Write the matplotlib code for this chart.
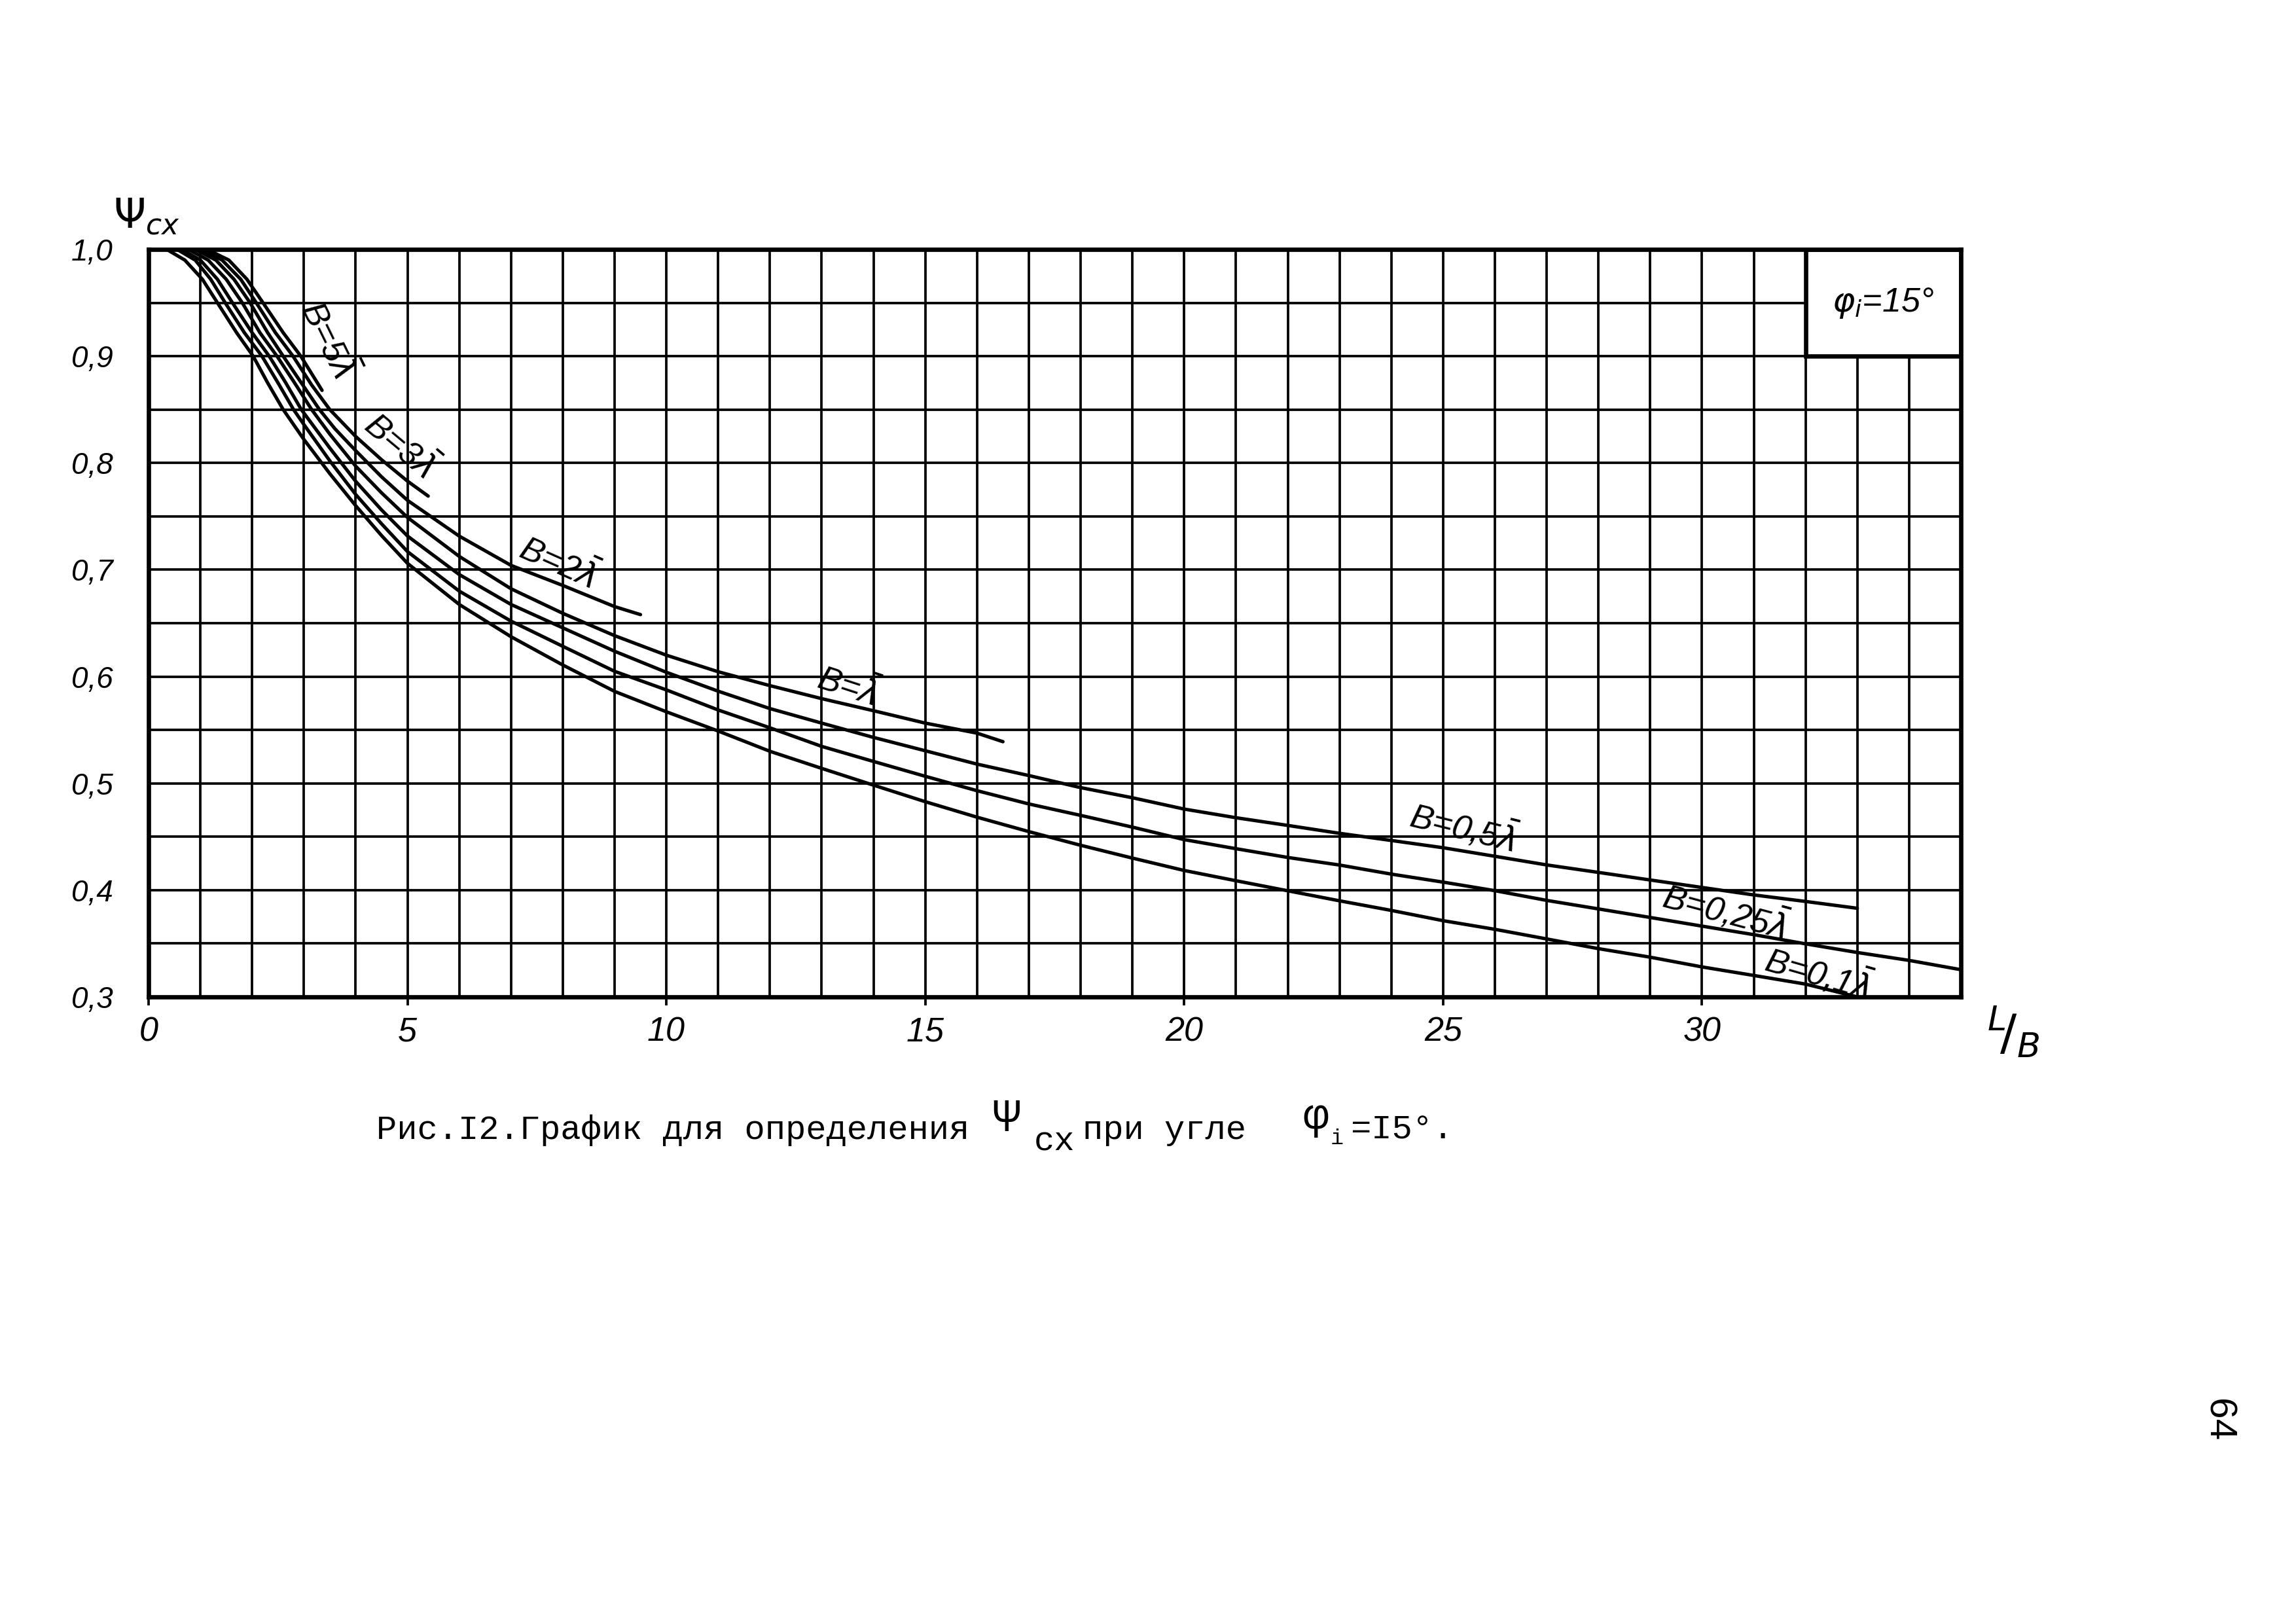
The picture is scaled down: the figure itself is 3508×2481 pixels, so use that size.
import matplotlib.pyplot as plt
from matplotlib.patches import Rectangle

# values: x = L/B, y = psi_cx
x_5 = [1.13, 1.55, 1.9, 2.21, 2.6, 2.94, 3.35]
y_5 = [1.0, 0.99, 0.972, 0.95, 0.922, 0.9, 0.868]

x_3 = [1.02, 1.42, 1.78, 2.08, 2.45, 2.79, 3.15, 3.5, 4, 4.5, 5, 5.4]
y_3 = [1.0, 0.99, 0.972, 0.95, 0.922, 0.9, 0.873, 0.85, 0.8248, 0.803, 0.783, 0.769]

x_2 = [0.9, 1.3, 1.65, 1.96, 2.3, 2.6, 2.95, 3.3, 3.6, 4, 4.5, 5, 6, 7, 8, 9, 9.5]
y_2 = [1.0, 0.99, 0.972, 0.95, 0.922, 0.9, 0.875, 0.85, 0.832, 0.8115, 0.787, 0.765,
       0.7315, 0.7041, 0.6853, 0.6655, 0.658]

x_1 = [0.77, 1.15, 1.5, 1.81, 2.15, 2.48, 2.82, 3.15, 3.5, 4, 4.5, 5, 6, 7, 8, 9, 10,
       11, 12, 13, 14, 15, 16, 16.5]
y_1 = [1.0, 0.99, 0.972, 0.95, 0.922, 0.9, 0.875, 0.85, 0.827, 0.797, 0.772, 0.749,
       0.7125, 0.6822, 0.6592, 0.6383, 0.620, 0.6045, 0.5915, 0.5793, 0.568, 0.5564,
       0.547, 0.539]

x_05 = [0.64, 1.0, 1.33, 1.62, 2.0, 2.33, 2.65, 2.95, 3.5, 4, 4.5, 5, 6, 7, 8, 9, 10,
        11, 12, 13, 14, 15, 16, 17, 18, 19, 20, 21, 22, 23, 24, 25, 26, 27, 28, 29,
        30, 31, 32, 33]
y_05 = [1.0, 0.99, 0.972, 0.95, 0.922, 0.9, 0.875, 0.85, 0.814, 0.7828, 0.756, 0.7316,
        0.6955, 0.6675, 0.6456, 0.6237, 0.604, 0.5863, 0.570, 0.5564, 0.543, 0.5305,
        0.518, 0.5073, 0.496, 0.4865, 0.4759, 0.4678, 0.4606, 0.4532, 0.4465, 0.4397,
        0.4317, 0.4236, 0.4166, 0.4095, 0.4025, 0.3955, 0.3894, 0.383]

x_025 = [0.55, 0.9, 1.2, 1.48, 1.85, 2.19, 2.5, 2.8, 3.0, 3.5, 4, 4.5, 5, 6, 7, 8, 9,
         10, 11, 12, 13, 14, 15, 16, 17, 18, 19, 20, 21, 22, 23, 24, 25, 26, 27, 28,
         29, 30, 31, 32, 33, 34, 35]
y_025 = [1.0, 0.99, 0.972, 0.95, 0.922, 0.9, 0.875, 0.85, 0.836, 0.802, 0.7705, 0.743,
         0.717, 0.680, 0.6519, 0.6283, 0.6049, 0.5875, 0.5687, 0.552, 0.5346, 0.5205,
         0.5066, 0.4931, 0.4807, 0.470, 0.459, 0.4473, 0.4388, 0.4306, 0.4235, 0.415,
         0.4075, 0.3995, 0.3904, 0.3824, 0.3744, 0.3663, 0.3583, 0.3497, 0.3416,
         0.3342, 0.3255]

x_01 = [0.35, 0.7, 1.04, 1.33, 1.7, 2.02, 2.3, 2.6, 3.0, 3.5, 4, 4.5, 5, 6, 7, 8, 9,
        10, 11, 12, 13, 14, 15, 16, 17, 18, 19, 20, 21, 22, 23, 24, 25, 26, 27, 28,
        29, 30, 31, 32, 33]
y_01 = [1.0, 0.99, 0.972, 0.95, 0.922, 0.9, 0.875, 0.85, 0.822, 0.79, 0.76, 0.732,
        0.706, 0.6675, 0.6373, 0.6108, 0.5861, 0.567, 0.549, 0.530, 0.514, 0.4983,
        0.4828, 0.4683, 0.4548, 0.442, 0.430, 0.4184, 0.4088, 0.3994, 0.390, 0.381,
        0.3714, 0.3633, 0.3543, 0.3452, 0.3372, 0.3281, 0.3201, 0.312, 0.300]

curve_labels = ['В=5$\\bar{\\lambda}$', 'В=3$\\bar{\\lambda}$', 'В=2$\\bar{\\lambda}$',
                'В=$\\bar{\\lambda}$', 'В=0,5$\\bar{\\lambda}$', 'В=0,25$\\bar{\\lambda}$',
                'В=0,1$\\bar{\\lambda}$']
label_x = [3.45, 4.85, 7.9, 13.5, 25.4, 30.45, 32.25]
label_y = [0.915, 0.816, 0.706, 0.59, 0.459, 0.38, 0.322]
label_rot = [-64, -40, -24, -18, -14, -15, -16]

x_ticks = [0, 5, 10, 15, 20, 25, 30]
x_tick_labels = ['0', '5', '10', '15', '20', '25', '30']
y_ticks = [0.3, 0.4, 0.5, 0.6, 0.7, 0.8, 0.9, 1.0]
y_tick_labels = ['0,3', '0,4', '0,5', '0,6', '0,7', '0,8', '0,9', '1,0']


def main():
    plt.rcParams['font.family'] = ['Liberation Sans', 'DejaVu Sans']
    fig = plt.figure(figsize=(3508 / 300, 2481 / 300), dpi=300)
    ax = fig.add_axes([227 / 3508, 1 - 1523 / 2481, (2996 - 227) / 3508, (1523 - 381) / 2481])

    ax.set_xlim(0, 35)
    ax.set_ylim(0.3, 1.0)
    ax.set_xticks(x_ticks)
    ax.set_xticklabels(x_tick_labels, style='italic', fontsize=12.5)
    ax.set_xticks(range(0, 36), minor=True)
    ax.set_yticks(y_ticks)
    ax.set_yticklabels(y_tick_labels, style='italic', fontsize=11)
    ax.set_yticks([v + 0.05 for v in y_ticks[:-1]], minor=True)
    ax.tick_params(axis='x', which='major', length=3, width=0.9, direction='out', pad=4)
    ax.tick_params(axis='x', which='minor', length=0)
    ax.tick_params(axis='y', which='both', length=0, pad=13)
    ax.grid(which='both', color='black', linewidth=0.9)
    ax.set_axisbelow(True)
    for s in ax.spines.values():
        s.set_linewidth(1.6)

    for xs, ys in [(x_5, y_5), (x_3, y_3), (x_2, y_2), (x_1, y_1),
                   (x_05, y_05), (x_025, y_025), (x_01, y_01)]:
        ax.plot(xs, ys, color='black', linewidth=1.25, zorder=3,
                solid_joinstyle='round', solid_capstyle='round')

    for t, lx, ly, r in zip(curve_labels, label_x, label_y, label_rot):
        ax.text(lx, ly, t, rotation=r, style='italic', fontsize=12.5,
                ha='center', va='center', rotation_mode='anchor', zorder=4)

    # box with the angle in the top right corner
    ax.add_patch(Rectangle((32, 0.9), 3, 0.1, facecolor='white', edgecolor='black',
                           linewidth=1.6, zorder=2.5))
    ax.text(33.5, 0.95, '$\\varphi_i$=15°', style='italic', fontsize=12.5,
            ha='center', va='center', zorder=4)

    fig.text(224 / 3508, 1 - 331 / 2481, '$\\Psi_{cx}$', fontsize=15, ha='center', va='center')
    fig.text(3076 / 3508, 1 - 1577 / 2481, '$^L\\!/_B$', fontsize=18, ha='center', va='center')

    # caption, typewriter style
    mono = 'Liberation Mono'
    fig.text(575 / 3508, 1 - 1740 / 2481, 'Рис.I2.График для определения', family=mono,
             fontsize=12.5, va='baseline')
    fig.text(1516 / 3508, 1 - 1728 / 2481, 'Ψ', family=mono, fontsize=17, va='baseline')
    fig.text(1580 / 3508, 1 - 1757 / 2481, 'сх', family=mono, fontsize=12.5, va='baseline')
    fig.text(1654 / 3508, 1 - 1740 / 2481, 'при угле', family=mono, fontsize=12.5, va='baseline')
    fig.text(1990 / 3508, 1 - 1724 / 2481, 'φ', family=mono, fontsize=16, va='baseline')
    fig.text(2033 / 3508, 1 - 1748 / 2481, 'i', family=mono, fontsize=8, va='baseline')
    fig.text(2064 / 3508, 1 - 1740 / 2481, '=I5°.', family=mono, fontsize=12.5, va='baseline')

    fig.text(3389 / 3508, 1 - 2170 / 2481, '64', fontsize=14, rotation=-90,
             ha='center', va='center')

    fig.savefig('out.png', dpi=300, facecolor='white')


main()
